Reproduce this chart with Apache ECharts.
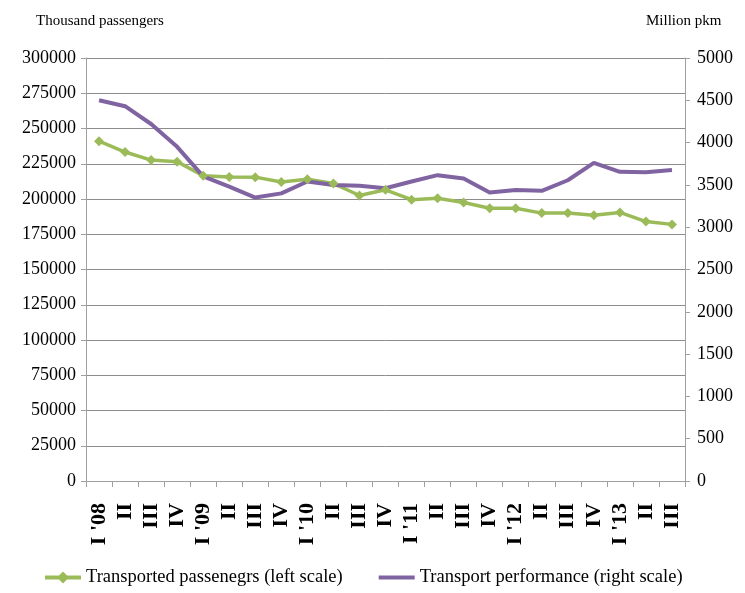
<!DOCTYPE html>
<html><head><meta charset="utf-8">
<script src="https://cdn.jsdelivr.net/npm/echarts@6/dist/echarts.min.js"></script>
<style>html,body{margin:0;padding:0;background:#fff}#c{width:745px;height:593px}</style>
</head><body><div id="c"></div>
<script>
const categories = ["I '08","II","III","IV","I '09","II","III","IV","I '10","II","III","IV","I '11","II","III","IV","I '12","II","III","IV","I '13","II","III"];
const passengers = [241000,233300,227600,226500,216500,215600,215500,212000,214000,211000,202500,206500,199500,200500,197500,193500,193500,190000,190000,188500,190500,184000,182000];
const performance = [4500,4430,4220,3950,3600,3480,3350,3400,3540,3500,3490,3460,3540,3615,3575,3410,3440,3430,3555,3760,3655,3650,3675];
const leftTicks = {min:0,max:300000,interval:25000};
const rightTicks = {min:0,max:5000,interval:500};
const FONT = "Liberation Serif";
const chart = echarts.init(document.getElementById('c'));
chart.setOption({
  animation:false,
  textStyle:{fontFamily:FONT,color:'#000'},
  grid:{left:86,right:60,top:58,bottom:112},
  graphic:[
    {type:'text',left:36,top:14,style:{text:'Thousand passengers',font:'15px "Liberation Serif"',fill:'#000'}},
    {type:'text',left:646,top:14,style:{text:'Million pkm',font:'15px "Liberation Serif"',fill:'#000'}}
  ],
  legend:{bottom:1,left:40,itemGap:36,itemWidth:36,itemHeight:12,
    textStyle:{fontFamily:FONT,fontSize:18.5,color:'#000'},
    data:[{name:'Transported passenegrs (left scale)',icon:'path://M0,4 L14,4 L18,0 L22,4 L36,4 L36,8 L22,8 L18,12 L14,8 L0,8 Z'},
          {name:'Transport performance (right scale)',icon:'path://M0,0 M0,4 L36,4 L36,8 L0,8 Z M36,12'}]},
  xAxis:{type:'category',data:categories,boundaryGap:true,
    axisLine:{lineStyle:{color:'#a0a0a0'}},
    axisTick:{show:true,alignWithLabel:false,length:6,lineStyle:{color:'#a0a0a0'}},
    axisLabel:{rotate:90,interval:0,fontFamily:FONT,fontSize:22,fontWeight:'bold',color:'#000',margin:22},
    splitLine:{show:false}},
  yAxis:[
    {type:'value',position:'left',...leftTicks,
      axisLine:{show:true,lineStyle:{color:'#a0a0a0'}},
      axisTick:{show:true,length:5,lineStyle:{color:'#a0a0a0'}},
      axisLabel:{fontFamily:FONT,fontSize:18,color:'#000',margin:10,formatter:v=>String(v)},
      splitLine:{show:true,lineStyle:{color:'#8c8c8c',width:1}}},
    {type:'value',position:'right',...rightTicks,
      axisLine:{show:true,lineStyle:{color:'#a0a0a0'}},
      axisTick:{show:true,length:5,lineStyle:{color:'#a0a0a0'}},
      axisLabel:{fontFamily:FONT,fontSize:18,color:'#000',margin:12,formatter:v=>String(v)},
      splitLine:{show:false}}
  ],
  series:[
    {name:'Transported passenegrs (left scale)',type:'line',yAxisIndex:0,data:passengers,
      symbol:'diamond',symbolSize:10,showAllSymbol:true,
      lineStyle:{color:'#9BBB59',width:3.5},itemStyle:{color:'#9BBB59'}},
    {name:'Transport performance (right scale)',type:'line',yAxisIndex:1,data:performance,
      symbol:'none',lineStyle:{color:'#8064A2',width:4},itemStyle:{color:'#8064A2'}}
  ]
});
</script></body></html>
